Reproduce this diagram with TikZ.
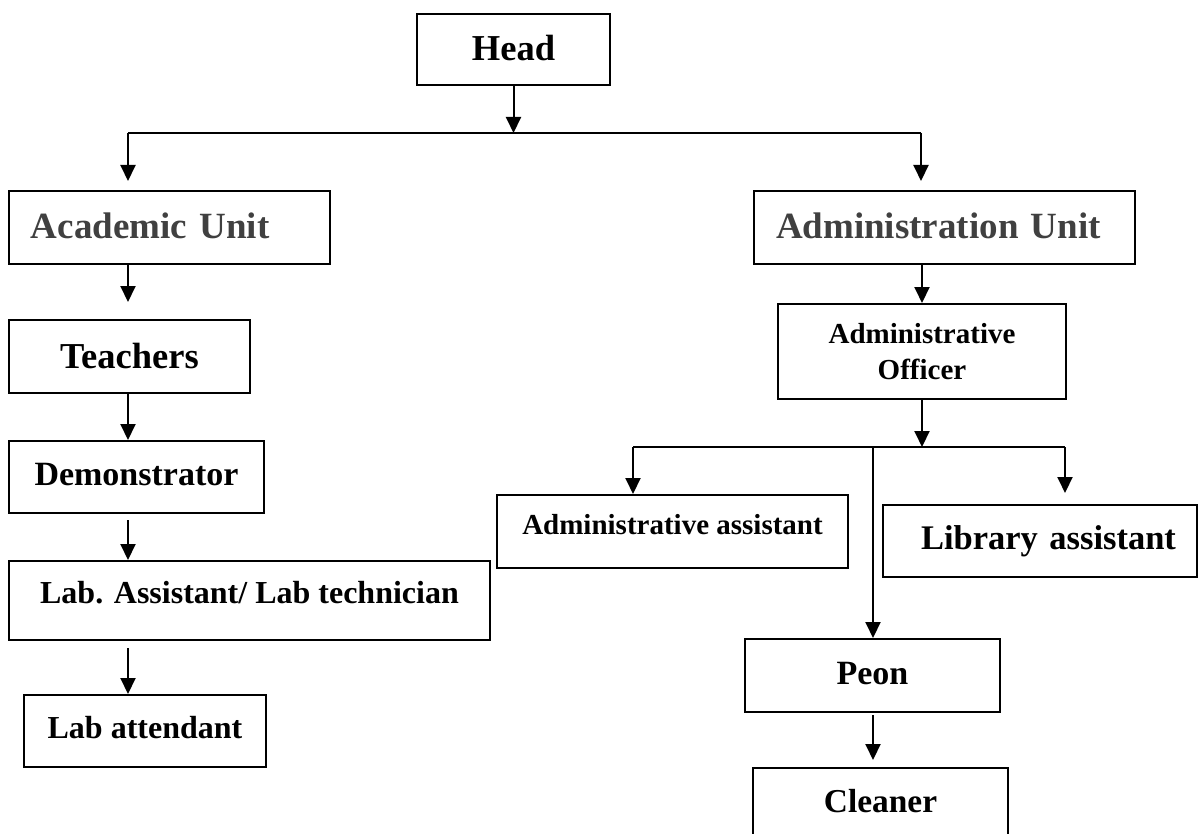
\documentclass[tikz,border=0pt]{standalone}
\usepackage{fontspec}
\setmainfont{Liberation Serif}
\usetikzlibrary{arrows.meta}
\definecolor{unitgray}{RGB}{64,64,64}
\newcommand{\boxfont}[1]{\fontsize{#1}{#1}\selectfont\bfseries}

\begin{document}
\begin{tikzpicture}[
  x=0.5pt, y=-0.5pt,
  box/.style={rectangle, draw, line width=1pt, inner sep=0pt, anchor=north west},
  unit/.style={box, align=left, text=unitgray},
  arr/.style={-{Triangle[length=8pt,width=7.5pt]}, line width=1pt}
]
\clip (0,0) rectangle (1198,834);

% top
\node[box, minimum width=96.5pt, text height=23.5pt, text depth=12pt, font=\boxfont{18.25}] (head) at (416,13) {Head};
\node[unit, text width=160.5pt, text height=24pt, text depth=12.5pt, font=\boxfont{18.5}] (acad) at (8,190) {\hspace*{11pt}Academic Unit};
\node[unit, text width=190.5pt, text height=24pt, text depth=12.5pt, font=\boxfont{18.5}] (admu) at (753,190) {\hspace*{11pt}Administration Unit};

% academic side
\node[box, minimum width=120.5pt, text height=24pt, text depth=12.5pt, font=\boxfont{18.25}] (teach) at (8,319) {Teachers};
\node[box, minimum width=127.5pt, text height=22pt, text depth=14pt, font=\boxfont{17}] (demo) at (8,440) {Demonstrator};
\node[box, minimum width=240.5pt, text height=21pt, text depth=18.5pt, font=\boxfont{16}] (labasst) at (8,560) {Lab. Assistant/ Lab technician};
\node[box, minimum width=121pt, text height=21.5pt, text depth=14.5pt, font=\boxfont{16}] (labatt) at (23,694) {Lab attendant};

% administration side
\node[box, align=center, minimum width=144pt, minimum height=47.5pt, font=\fontsize{14.5}{18}\selectfont\bfseries] (officer) at (777,303) {Administrative\\Officer};
\node[box, minimum width=175.5pt, text height=19.5pt, text depth=17pt, font=\boxfont{14.5}] (adminasst) at (496,494) {Administrative assistant};
\node[box, align=left, text width=157pt, text height=22pt, text depth=14pt, font=\boxfont{17.25}] (library) at (882,504) {\hspace*{19pt}Library assistant};
\node[box, minimum width=127.5pt, text height=22.5pt, text depth=14pt, font=\boxfont{17}] (peon) at (744,638) {Peon};
\node[box, minimum width=127.5pt, text height=22pt, text depth=14.5pt, font=\boxfont{16.7}] (cleaner) at (752,767) {Cleaner};

% junctions
\coordinate (hj) at (513,133);
\coordinate (jl) at (128,133);
\coordinate (jr) at (921,133);
\coordinate (oj) at (921,447);
\coordinate (al) at (633,447);
\coordinate (ar) at (1065,447);
\coordinate (pj) at (873,447);

\draw[arr] (head.south) -- (head.south |- hj);
\draw[line width=1pt] (jl) -- (jr);
\draw[arr, shorten >=4.5pt] (jl) -- (jl |- acad.north);
\draw[arr, shorten >=4.5pt] (jr) -- (jr |- admu.north);

\draw[arr, shorten >=8.5pt] (jl |- acad.south) -- (jl |- teach.north);
\draw[arr] (jl |- teach.south) -- (jl |- demo.north);
\draw[arr, shorten <=3pt] (jl |- demo.south) -- (jl |- labasst.north);
\draw[arr, shorten <=3.5pt] (jl |- labasst.south) -- (jl |- labatt.north);

\draw[arr] (officer.north |- admu.south) -- (officer.north);
\draw[arr] (officer.south) -- (officer.south |- oj);
\draw[line width=1pt] (al) -- (ar);
\draw[arr] (al) -- (al |- adminasst.north);
\draw[arr, shorten >=5.5pt] (ar) -- (ar |- library.north);
\draw[arr] (pj) -- (pj |- peon.north);
\draw[arr, shorten <=1pt, shorten >=3.5pt] (pj |- peon.south) -- (pj |- cleaner.north);
\end{tikzpicture}
\end{document}
